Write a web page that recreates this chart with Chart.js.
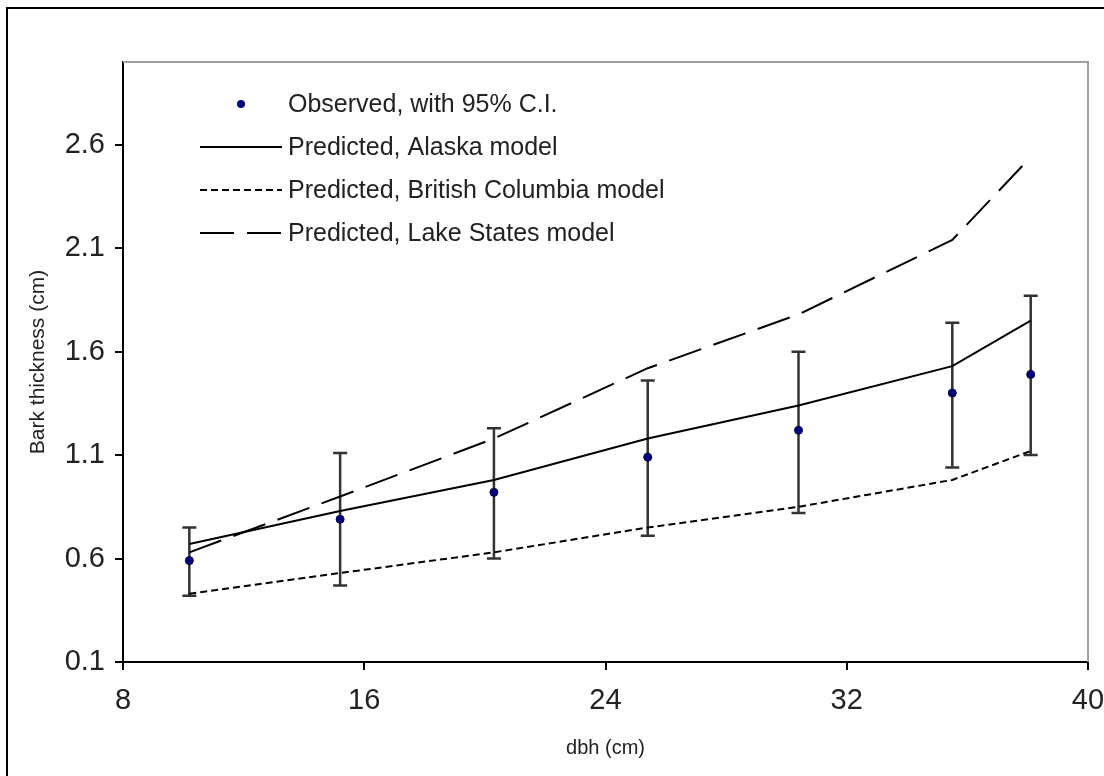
<!DOCTYPE html>
<html>
<head>
<meta charset="utf-8">
<title>Bark thickness vs dbh</title>
<script src="https://cdn.jsdelivr.net/npm/chart.js"></script>
<style>
  body { margin: 0; background: #fff; overflow: hidden; }
  #wrap { position: relative; width: 1104px; height: 776px; }
  /* outer chart frame, only top and left edges are in view */
  #frame { position: absolute; left: 6px; top: 7px; width: 1200px; height: 900px; border: 2px solid #000; }
  #chart { position: absolute; left: 0; top: 0; }
</style>
</head>
<body>
<div id="wrap">
  <div id="frame"></div>
  <canvas id="chart" width="1104" height="776"></canvas>
</div>
<script>
  // dbh classes (cm)
  const dbh = [10.2, 15.2, 20.3, 25.4, 30.4, 35.5, 38.1];
  // observed mean bark thickness with 95% C.I.
  const observed = [0.59, 0.79, 0.92, 1.09, 1.22, 1.40, 1.49];
  const ciUpper = [0.75, 1.11, 1.23, 1.46, 1.60, 1.74, 1.87];
  const ciLower = [0.42, 0.47, 0.60, 0.71, 0.82, 1.04, 1.10];
  // model predictions
  const alaska = [0.67, 0.83, 0.98, 1.18, 1.34, 1.53, 1.75];
  const britishColumbia = [0.43, 0.53, 0.63, 0.75, 0.85, 0.98, 1.12];
  const lakeStates = [0.63, 0.90, 1.18, 1.52, 1.78, 2.14, 2.54];

  const xTicks = [8, 16, 24, 32, 40];
  const yTicks = [0.1, 0.6, 1.1, 1.6, 2.1, 2.6];

  const FONT = "'Liberation Sans', Arial, sans-serif";
  Chart.defaults.font.family = FONT;
  Chart.defaults.color = '#222';

  const pts = ys => dbh.map((x, i) => ({ x: x, y: ys[i] }));

  // gray border on top and right of plot area
  const plotFrame = {
    id: 'plotFrame',
    beforeDatasetsDraw(chart) {
      const { ctx, chartArea: a } = chart;
      ctx.save();
      ctx.strokeStyle = '#a0a0a0';
      ctx.lineWidth = 2;
      ctx.beginPath();
      ctx.moveTo(a.left, a.top);
      ctx.lineTo(a.right, a.top);
      ctx.lineTo(a.right, a.bottom);
      ctx.stroke();
      ctx.restore();
    }
  };

  // error bars for the observed series
  const errorBars = {
    id: 'errorBars',
    beforeDatasetsDraw(chart) {
      const { ctx, scales: { x, y } } = chart;
      ctx.save();
      ctx.strokeStyle = '#333';
      ctx.lineWidth = 2.5;
      dbh.forEach((d, i) => {
        const px = x.getPixelForValue(d);
        const top = y.getPixelForValue(ciUpper[i]);
        const bot = y.getPixelForValue(ciLower[i]);
        ctx.beginPath();
        ctx.moveTo(px, top); ctx.lineTo(px, bot);
        ctx.moveTo(px - 7, top); ctx.lineTo(px + 7, top);
        ctx.moveTo(px - 7, bot); ctx.lineTo(px + 7, bot);
        ctx.stroke();
      });
      ctx.restore();
    }
  };

  // legend inside the plot area, top left
  const innerLegend = {
    id: 'innerLegend',
    afterDraw(chart) {
      const { ctx, chartArea: a } = chart;
      const x0 = a.left + 77, x1 = a.left + 159, tx = a.left + 165;
      ctx.save();
      ctx.font = '25px ' + FONT;
      ctx.textBaseline = 'middle';
      ctx.fillStyle = '#222';
      chart.data.datasets.forEach((ds, i) => {
        const yy = a.top + 42 + i * 43;
        if (ds.showLine === false) {
          ctx.beginPath();
          ctx.arc((x0 + x1) / 2, yy, ds.pointRadius, 0, Math.PI * 2);
          ctx.fillStyle = ds.pointBackgroundColor;
          ctx.fill();
          ctx.fillStyle = '#222';
        } else {
          ctx.strokeStyle = ds.borderColor;
          ctx.lineWidth = ds.borderWidth;
          ctx.setLineDash(ds.borderDash || []);
          ctx.beginPath();
          ctx.moveTo(x0, yy); ctx.lineTo(x1, yy);
          ctx.stroke();
          ctx.setLineDash([]);
        }
        ctx.fillText(ds.label, tx, yy + 1);
      });
      ctx.restore();
    }
  };

  new Chart(document.getElementById('chart'), {
    type: 'line',
    data: {
      datasets: [
        {
          label: 'Observed, with 95% C.I.',
          data: pts(observed),
          showLine: false,
          pointRadius: 4,
          pointBackgroundColor: '#000080',
          pointBorderColor: '#000033',
          pointBorderWidth: 1
        },
        {
          label: 'Predicted, Alaska model',
          data: pts(alaska),
          borderColor: '#000',
          borderWidth: 2,
          pointRadius: 0
        },
        {
          label: 'Predicted, British Columbia model',
          data: pts(britishColumbia),
          borderColor: '#000',
          borderWidth: 2,
          borderDash: [7, 4],
          pointRadius: 0
        },
        {
          label: 'Predicted, Lake States model',
          data: pts(lakeStates),
          borderColor: '#000',
          borderWidth: 2,
          borderDash: [34, 13],
          pointRadius: 0
        }
      ]
    },
    options: {
      responsive: false,
      animation: false,
      layout: { padding: { left: 0, top: 62, right: 16, bottom: 0 } },
      plugins: { legend: { display: false }, tooltip: { enabled: false } },
      scales: {
        x: {
          type: 'linear',
          min: 8,
          max: 40,
          afterBuildTicks: s => { s.ticks = xTicks.map(v => ({ value: v })); },
          // let the "40" label run to the page edge like the original
          afterFit: s => { s.height = 114; s.paddingLeft = 0; s.paddingRight = 0; },
          ticks: { font: { size: 29 }, color: '#222', padding: 14 },
          grid: { drawOnChartArea: false, tickLength: 8, color: '#000', lineWidth: 2 },
          border: { color: '#000', width: 2 },
          title: { display: true, text: 'dbh (cm)', font: { size: 20 }, color: '#222', padding: { top: 0, bottom: 16 } }
        },
        y: {
          min: 0.1,
          max: 3.0,
          afterBuildTicks: s => { s.ticks = yTicks.map(v => ({ value: v })); },
          afterFit: s => { s.width = 123; s.paddingTop = 0; s.paddingBottom = 0; },
          ticks: { font: { size: 29 }, color: '#222', padding: 10, callback: v => v.toFixed(1) },
          grid: { drawOnChartArea: false, tickLength: 8, color: '#000', lineWidth: 2 },
          border: { color: '#000', width: 2 },
          title: { display: true, text: 'Bark thickness (cm)', font: { size: 21 }, color: '#222', padding: { top: 26, bottom: 0 } }
        }
      }
    },
    plugins: [plotFrame, errorBars, innerLegend]
  });
</script>
</body>
</html>
